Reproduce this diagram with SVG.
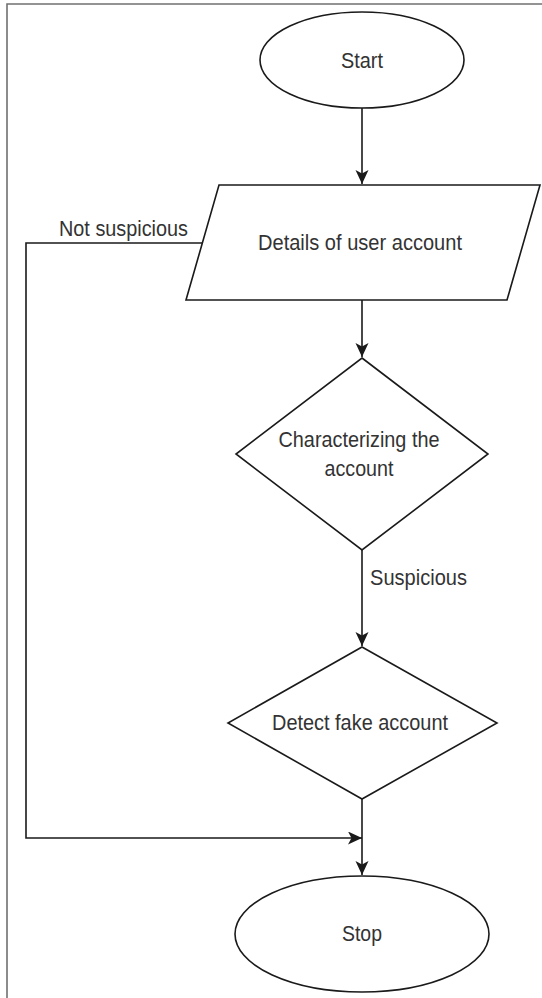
<svg xmlns="http://www.w3.org/2000/svg" width="542" height="998" viewBox="0 0 542 998">
  <style>
    .shape { fill: #ffffff; stroke: #1a1a1a; stroke-width: 1.6; }
    .edge { fill: none; stroke: #1a1a1a; stroke-width: 1.6; }
    .label { font-family: "Liberation Sans", Arial, sans-serif; font-size: 21.5px; fill: #333333; }
    .mid { text-anchor: middle; }
    .frame { fill: none; stroke: #707070; stroke-width: 1.6; }
  </style>
  <defs>
    <marker id="arrow" markerUnits="userSpaceOnUse" markerWidth="16" markerHeight="14" refX="14" refY="6.5" orient="auto">
      <path d="M0,0 L14,6.5 L0,13 L3.5,6.5 Z" fill="#1a1a1a"/>
    </marker>
  </defs>

  <rect width="542" height="998" fill="#ffffff"/>
  <!-- page border -->
  <path class="frame" d="M7,998 V4 H542"/>

  <!-- connectors -->
  <g id="connectors">
    <path class="edge" d="M362,108 V184" marker-end="url(#arrow)"/>
    <path class="edge" d="M362,300 V357" marker-end="url(#arrow)"/>
    <path class="edge" d="M362,550 V646" marker-end="url(#arrow)"/>
    <path class="edge" d="M362,799 V875" marker-end="url(#arrow)"/>
    <path class="edge" d="M202,243 H26 V838 H362" marker-end="url(#arrow)"/>
    <text class="label" x="59" y="236" textLength="129" lengthAdjust="spacingAndGlyphs">Not suspicious</text>
    <text class="label" x="370" y="585" textLength="97" lengthAdjust="spacingAndGlyphs">Suspicious</text>
  </g>

  <g id="start">
    <ellipse class="shape" cx="362" cy="60" rx="102" ry="48"/>
    <text class="label mid" x="362" y="68" textLength="42" lengthAdjust="spacingAndGlyphs">Start</text>
  </g>

  <g id="details">
    <polygon class="shape" points="219,185 540,185 507,300 186,300"/>
    <text class="label mid" x="360" y="250" textLength="204" lengthAdjust="spacingAndGlyphs">Details of user account</text>
  </g>

  <g id="characterize">
    <polygon class="shape" points="362,358 488,454 362,550 236,454"/>
    <text class="label mid" x="359" y="447" textLength="161" lengthAdjust="spacingAndGlyphs">Characterizing the</text>
    <text class="label mid" x="359" y="476" textLength="69" lengthAdjust="spacingAndGlyphs">account</text>
  </g>

  <g id="detect">
    <polygon class="shape" points="362,647 497,723 362,799 228,723"/>
    <text class="label mid" x="360" y="730" textLength="176" lengthAdjust="spacingAndGlyphs">Detect fake account</text>
  </g>

  <g id="stop">
    <ellipse class="shape" cx="362" cy="934" rx="127" ry="58"/>
    <text class="label mid" x="362" y="941" textLength="40" lengthAdjust="spacingAndGlyphs">Stop</text>
  </g>
</svg>
